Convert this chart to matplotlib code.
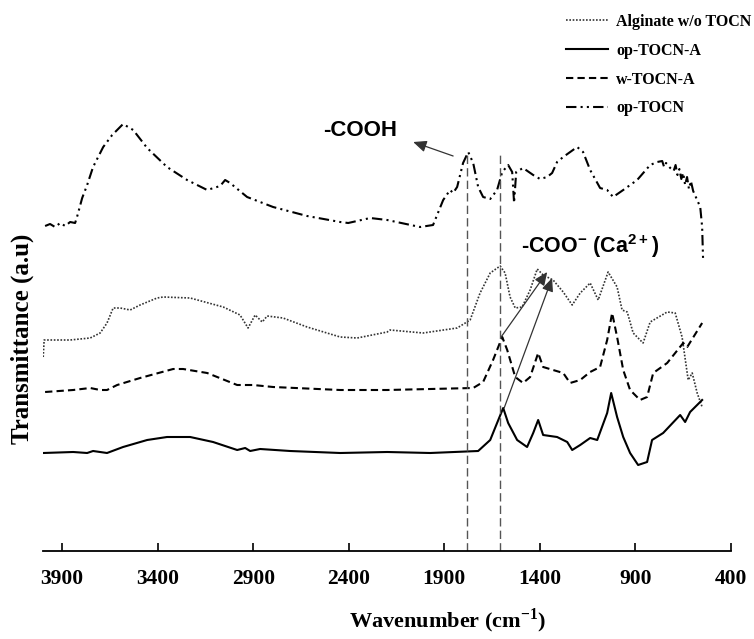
import matplotlib
matplotlib.use("Agg")
import matplotlib.pyplot as plt
from matplotlib.lines import Line2D

plt.rcParams['font.family'] = ['Liberation Serif', 'DejaVu Serif']
plt.rcParams['mathtext.fontset'] = 'custom'

# ---------------- data (wavenumber cm-1, transmittance a.u.) ----------------
op_tocn_wn = [3989, 3963, 3937, 3910, 3884, 3858, 3832, 3822, 3795, 3769, 3738, 3685, 3638, 3581,
              3528, 3455, 3351, 3246, 3141, 3073, 3047, 3021, 2932, 2796, 2618, 2445, 2403, 2288,
              2199, 2027, 1959, 1906, 1870, 1854, 1833, 1802, 1775, 1749, 1723, 1697, 1660, 1624,
              1597, 1566, 1545, 1535, 1524, 1488, 1435, 1399, 1362, 1336, 1310, 1278, 1205, 1174,
              1137, 1085, 1048, 1017, 964, 891, 823, 786, 760, 750, 740, 718, 700, 690, 680, 670,
              660, 650, 640, 630, 620, 610, 598, 561, 551, 546]
op_tocn_t = [3.25, 3.27, 3.24, 3.28, 3.25, 3.29, 3.28, 3.34, 3.53, 3.66, 3.84, 4.04, 4.16, 4.27,
             4.21, 4.03, 3.84, 3.71, 3.61, 3.65, 3.71, 3.68, 3.54, 3.44, 3.35, 3.29, 3.28, 3.33,
             3.31, 3.24, 3.26, 3.51, 3.61, 3.58, 3.64, 3.88, 3.99, 3.88, 3.64, 3.54, 3.52, 3.61,
             3.79, 3.86, 3.79, 3.48, 3.79, 3.83, 3.76, 3.72, 3.74, 3.78, 3.89, 3.94, 4.04, 3.99,
             3.81, 3.63, 3.61, 3.54, 3.61, 3.71, 3.86, 3.89, 3.90, 3.84, 3.88, 3.83, 3.80, 3.86,
             3.76, 3.82, 3.72, 3.78, 3.66, 3.74, 3.62, 3.70, 3.60, 3.44, 3.24, 2.91]

alg_wn = [3999, 3994, 3858, 3753, 3701, 3665, 3633, 3596, 3544, 3492, 3403, 3371, 3230, 3057,
          2969, 2927, 2890, 2853, 2827, 2744, 2618, 2445, 2356, 2199, 2184, 2011, 1833, 1765,
          1713, 1660, 1608, 1582, 1556, 1529, 1493, 1451, 1414, 1383, 1331, 1278, 1231, 1189,
          1137, 1095, 1043, 996, 970, 943, 912, 860, 823, 734, 692, 656, 624, 603, 577, 551]
alg_t = [1.94, 2.11, 2.11, 2.13, 2.18, 2.28, 2.43, 2.43, 2.41, 2.46, 2.53, 2.54, 2.53, 2.44,
         2.36, 2.23, 2.36, 2.29, 2.35, 2.33, 2.24, 2.14, 2.13, 2.19, 2.21, 2.18, 2.23, 2.31,
         2.58, 2.78, 2.85, 2.78, 2.54, 2.43, 2.44, 2.61, 2.82, 2.76, 2.71, 2.59, 2.46, 2.58,
         2.68, 2.51, 2.79, 2.64, 2.41, 2.39, 2.18, 2.08, 2.29, 2.39, 2.38, 2.14, 1.71, 1.78,
         1.58, 1.44]

w_wn = [3989, 3842, 3753, 3701, 3665, 3612, 3492, 3319, 3267, 3141, 2984, 2901, 2796, 2445,
        2199, 1749, 1697, 1645, 1597, 1571, 1529, 1488, 1451, 1409, 1383, 1331, 1278, 1242,
        1189, 1137, 1085, 1048, 1022, 996, 964, 928, 876, 839, 807, 734, 650, 629, 551]
w_t = [1.59, 1.61, 1.63, 1.61, 1.61, 1.66, 1.73, 1.82, 1.82, 1.78, 1.66, 1.66, 1.64, 1.61,
       1.61, 1.63, 1.69, 1.91, 2.14, 2.01, 1.74, 1.68, 1.74, 1.98, 1.84, 1.81, 1.78, 1.68,
       1.71, 1.79, 1.84, 2.11, 2.38, 2.14, 1.81, 1.61, 1.51, 1.54, 1.78, 1.88, 2.08, 2.04, 2.28]

opA_wn = [3999, 3842, 3769, 3738, 3665, 3581, 3455, 3351, 3230, 3110, 2984, 2942, 2916, 2864,
          2707, 2445, 2199, 1974, 1723, 1660, 1624, 1592, 1566, 1519, 1467, 1435, 1409, 1383,
          1310, 1257, 1231, 1189, 1137, 1100, 1048, 1027, 996, 964, 928, 886, 839, 813, 755,
          666, 640, 614, 551]
opA_t = [0.98, 0.99, 0.98, 1.00, 0.98, 1.04, 1.11, 1.14, 1.14, 1.09, 1.01, 1.03, 1.00, 1.02,
         1.00, 0.98, 0.99, 0.98, 1.00, 1.11, 1.28, 1.43, 1.28, 1.11, 1.04, 1.18, 1.31, 1.16,
         1.14, 1.09, 1.01, 1.06, 1.13, 1.11, 1.38, 1.58, 1.34, 1.14, 0.98, 0.86, 0.89, 1.11,
         1.18, 1.36, 1.29, 1.39, 1.51]

series_labels = ["Alginate w/o TOCN", "op-TOCN-A", "w-TOCN-A", "op-TOCN"]
xticks = [3900, 3400, 2900, 2400, 1900, 1400, 900, 400]
marker_lines = [1780, 1610]
marker_top = 3.99

# ---------------- figure ----------------
fig = plt.figure(figsize=(7.54, 6.39), dpi=100)
ax = fig.add_axes([43/754, 88/639, (731-43)/754, (551-5)/639])
ax.set_xlim(4000, 400)
ax.set_ylim(0, 5.46)

ls_dashdotdot = (0, (5, 2, 1, 2, 1, 2))
ls_dashed = (0, (3.5, 2))
ls_dotted = (0, (1, 1))

ax.plot(op_tocn_wn, op_tocn_t, color='black', lw=1.5, linestyle=ls_dashdotdot)
ax.plot(alg_wn, alg_t, color='#333333', lw=1.2, linestyle=ls_dotted)
ax.plot(w_wn, w_t, color='black', lw=1.5, linestyle=ls_dashed)
ax.plot(opA_wn, opA_t, color='black', lw=1.5, linestyle='-')

for xv in marker_lines:
    ax.plot([xv, xv], [0, marker_top], color='#555555', lw=1.0, linestyle=(0, (6, 3)))

# annotations
arrowprops = dict(arrowstyle='-|>,head_length=0.8,head_width=0.35', color='#333333', lw=0.9,
                  shrinkA=0, shrinkB=0)
ax.annotate('', xy=(2063, 4.09), xytext=(1854, 3.95), arrowprops=arrowprops)
ax.text(2341, 4.20, '-COOH', family='Liberation Sans', fontweight='bold', fontsize=16,
        ha='center', va='center')
ax.annotate('', xy=(1362, 2.79), xytext=(1603, 2.14), arrowprops=arrowprops)
ax.annotate('', xy=(1336, 2.73), xytext=(1587, 1.43), arrowprops=arrowprops)
ax.text(1137, 3.05, r'-COO$^{\mathregular{-}}$ (Ca$^{\mathregular{2+}}$)', family='Liberation Sans',
        fontweight='bold', fontsize=15.5, ha='center', va='center')

# axes styling
for s in ['left', 'right', 'top']:
    ax.spines[s].set_visible(False)
ax.spines['bottom'].set_linewidth(1.3)
ax.set_yticks([])
ax.set_xticks(xticks)
ax.set_xticklabels([str(t) for t in xticks], fontsize=15.5, fontweight='bold')
ax.tick_params(axis='x', direction='in', length=6, width=1.2, pad=13)

ax.set_xlabel(r'Wavenumber (cm$^{\mathregular{-1}}$)', fontsize=16, fontweight='bold', va='center')
ax.xaxis.set_label_coords((448-43)/688, (551-621)/546)
ax.set_ylabel('Transmittance (a.u)', fontsize=18, fontweight='bold', va='center')
ax.yaxis.set_label_coords((22-43)/688, (551-339)/546)

handles = [
    Line2D([], [], color='#333333', lw=1.2, linestyle=ls_dotted),
    Line2D([], [], color='black', lw=1.5, linestyle='-'),
    Line2D([], [], color='black', lw=1.5, linestyle=ls_dashed),
    Line2D([], [], color='black', lw=1.5, linestyle=ls_dashdotdot),
]
fig.legend(handles, series_labels, loc='upper left', bbox_to_anchor=(558/754, 1 - 6/639),
           frameon=False, borderpad=0, handlelength=2.6, handletextpad=0.55, labelspacing=0.8,
           prop={'family': 'Liberation Serif', 'weight': 'bold', 'size': 11.5})

fig.savefig('out.png', dpi=100)
